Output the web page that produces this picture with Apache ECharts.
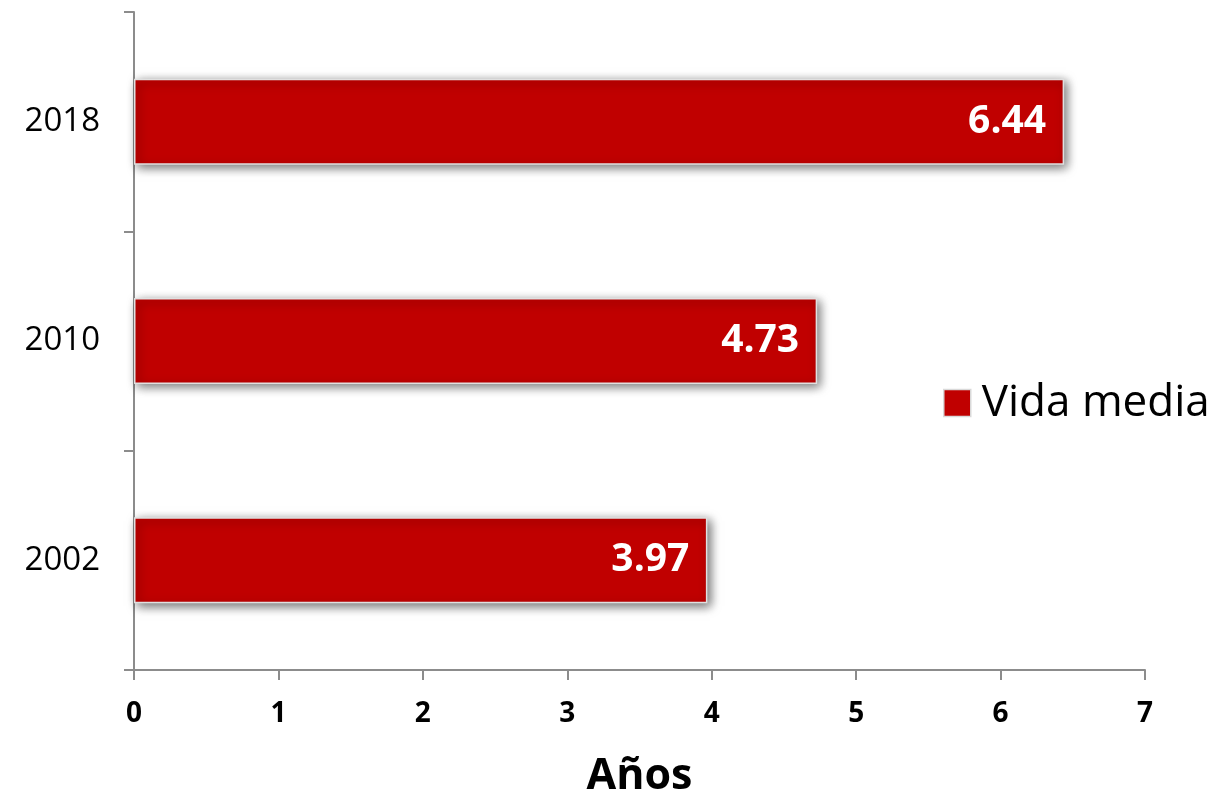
<!DOCTYPE html>
<html><head><meta charset="utf-8">
<script src="https://cdn.jsdelivr.net/npm/echarts@6/dist/echarts.min.js"></script>
<style>html,body{margin:0;padding:0;background:#fff}#c{width:1221px;height:797px}</style>
</head><body><div id="c"></div>
<script>
const categories = ['2002', '2010', '2018'];
const values = [3.97, 4.73, 6.44];
const seriesName = 'Vida media';
const xTicks = [0, 1, 2, 3, 4, 5, 6, 7];
const xAxisTitle = 'Años';

const font = '"Open Sans", "Liberation Sans", sans-serif';
const chart = echarts.init(document.getElementById('c'));
chart.setOption({
  animation: false,
  grid: {left: 134, right: 76, top: 12, bottom: 127, containLabel: false, outerBoundsMode: 'none'},
  legend: {
    data: [seriesName], left: 938, top: 376, icon: 'rect',
    itemWidth: 27, itemHeight: 27, itemGap: 10,
    itemStyle: {borderColor: '#d9d9d9', borderWidth: 1.5},
    textStyle: {fontSize: 44, fontFamily: font, color: '#000', padding: [0, 0, 0, 6]}
  },
  xAxis: {
    type: 'value', min: xTicks[0], max: xTicks[xTicks.length - 1], interval: 1,
    name: xAxisTitle, nameLocation: 'middle', nameGap: 85,
    nameTextStyle: {fontSize: 43, fontWeight: 'bold', fontFamily: font, color: '#000'},
    axisLine: {show: true, lineStyle: {color: '#8c8c8c', width: 2}},
    axisTick: {show: true, length: 10, lineStyle: {color: '#8c8c8c', width: 2}},
    splitLine: {show: false},
    axisLabel: {fontSize: 28, fontWeight: 'bold', fontFamily: font, color: '#000', margin: 30}
  },
  yAxis: {
    type: 'category', data: categories,
    axisLine: {show: true, lineStyle: {color: '#8c8c8c', width: 2}},
    axisTick: {show: true, length: 10, lineStyle: {color: '#8c8c8c', width: 2}},
    axisLabel: {fontSize: 33, fontFamily: font, color: '#000', margin: 34}
  },
  series: [{
    name: seriesName, type: 'bar', data: values, barWidth: 86,
    itemStyle: {
      color: '#c00000', borderColor: '#e0e0e0', borderWidth: 1.5,
      shadowBlur: 10, shadowOffsetX: 3, shadowOffsetY: 3, shadowColor: 'rgba(0,0,0,0.55)'
    },
    label: {
      show: true, position: 'insideRight', distance: 18,
      formatter: p => p.value.toFixed(2),
      fontSize: 39, fontWeight: 'bold', fontFamily: font, color: '#fff'
    }
  }]
});
</script></body></html>
